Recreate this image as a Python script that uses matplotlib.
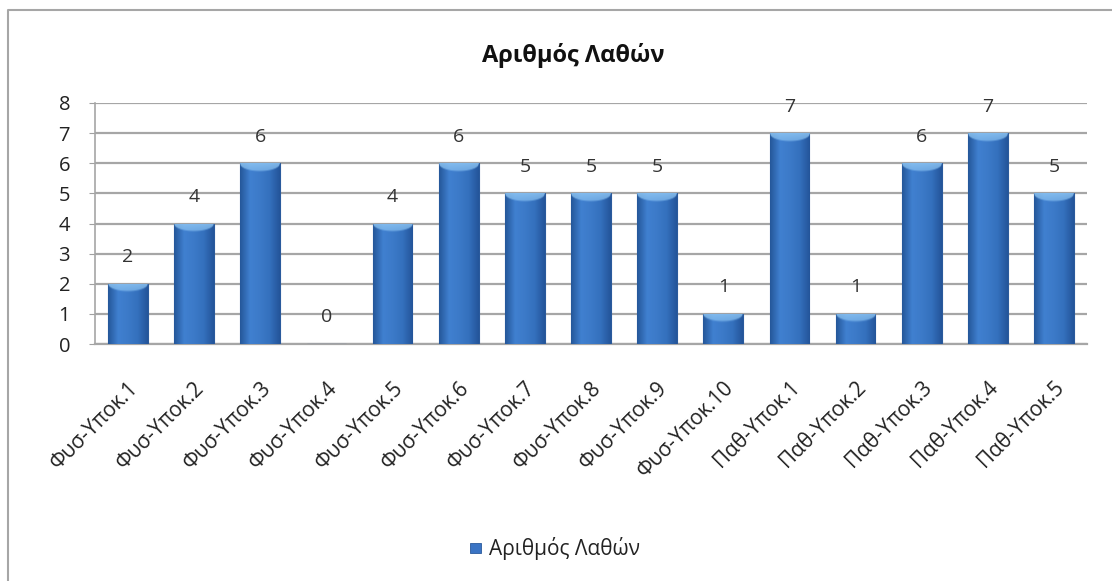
import numpy as np
import matplotlib
matplotlib.use("Agg")
import matplotlib.pyplot as plt
from matplotlib.patches import Rectangle
from matplotlib.lines import Line2D
from matplotlib.colors import LinearSegmentedColormap, to_rgb

categories = ["Φυσ-Υποκ.1", "Φυσ-Υποκ.2", "Φυσ-Υποκ.3", "Φυσ-Υποκ.4", "Φυσ-Υποκ.5",
              "Φυσ-Υποκ.6", "Φυσ-Υποκ.7", "Φυσ-Υποκ.8", "Φυσ-Υποκ.9", "Φυσ-Υποκ.10",
              "Παθ-Υποκ.1", "Παθ-Υποκ.2", "Παθ-Υποκ.3", "Παθ-Υποκ.4", "Παθ-Υποκ.5"]
errors = [2, 4, 6, 0, 4, 6, 5, 5, 5, 1, 7, 1, 6, 7, 5]
yticks = [0, 1, 2, 3, 4, 5, 6, 7, 8]
title = "Αριθμός Λαθών"
series_name = "Αριθμός Λαθών"

plt.rcParams['font.family'] = ['Open Sans', 'DejaVu Sans']

W, H = 1112, 581
fig = plt.figure(figsize=(W / 100, H / 100), dpi=100)
ax = fig.add_axes([95 / W, 1 - 344 / H, 992 / W, 241 / H])

# outer frame (top and left edges only visible)
fig.add_artist(Line2D([8 / W, 8 / W, 1.0], [0.0, 1 - 10 / H, 1 - 10 / H], transform=fig.transFigure,
                      color="#a6a6a6", linewidth=1.5))

x = np.arange(len(categories))
width = 0.6
bars = ax.bar(x, errors, width=width, color="#3a74c4", edgecolor="#2a5a9c", linewidth=0.8, zorder=3)

ax.set_xlim(-0.5, len(categories) - 0.5)
ax.set_ylim(0, 8)

cmap = LinearSegmentedColormap.from_list("bar", ["#25589a", "#4080d0", "#3c7ac8", "#3470bd", "#24559a"])
light = np.array(to_rgb("#8ec6f4"))
px_per_unit = 241 / 8.0
nu = 64
u = np.linspace(0, 1, nu)
base_row = cmap(u)[:, :3]
depth = 2 + 7 * np.sqrt(np.clip(1 - (2 * u - 1) ** 2, 0, 1))
for b, v in zip(bars, errors):
    if v <= 0:
        continue
    x0 = b.get_x(); x1 = x0 + b.get_width()
    nr = max(int(v * px_per_unit), 2)
    t = (np.arange(nr) + 0.5)[:, None]  # pixel distance from top
    alpha = np.clip((depth[None, :] - t) / 2.0, 0, 1) * (0.85 - 0.03 * t)
    alpha = np.clip(alpha, 0, 1)[:, :, None]
    img = base_row[None, :, :] * (1 - alpha) + light[None, None, :] * alpha
    im = ax.imshow(img, aspect="auto", extent=(x0, x1, 0, v), origin="upper", zorder=4, interpolation="bilinear")
    im.set_clip_path(b)

for xi, v in zip(x, errors):
    ax.text(xi, v + 0.88, str(v), ha="center", va="center", fontsize=14, color="#333333", zorder=6)

ax.set_yticks(yticks)
ax.set_yticklabels([str(t) for t in yticks], fontsize=14.5, color="#222222")
ax.set_xticks(x)
ax.set_xticklabels(categories, rotation=45, ha="right", rotation_mode="anchor", fontsize=15, color="#222222")
ax.tick_params(axis="x", length=0, pad=24)
ax.tick_params(axis="y", length=4, color="#a0a0a0", pad=14)
ax.grid(axis="y", color="#a6a6a6", linewidth=1.6, zorder=0)
ax.set_axisbelow(True)
for s in ["top", "right"]:
    ax.spines[s].set_visible(False)
ax.spines["left"].set_color("#a6a6a6")
ax.spines["bottom"].set_color("#a6a6a6")
ax.spines["left"].set_linewidth(1.2)
ax.spines["bottom"].set_linewidth(1.6)

fig.text(573 / W, 1 - 56 / H, title, ha="center", va="center", fontsize=17, fontweight="bold", color="#111111")

# legend
fig.add_artist(Rectangle((470 / W, 1 - 553 / H), 11 / W, 10 / H, transform=fig.transFigure,
                         facecolor="#3a74c4", edgecolor="#2a5a9c", linewidth=0.6))
fig.text(489 / W, 1 - 548 / H, series_name, ha="left", va="center", fontsize=15, color="#222222")

fig.savefig("out.png", dpi=100)
